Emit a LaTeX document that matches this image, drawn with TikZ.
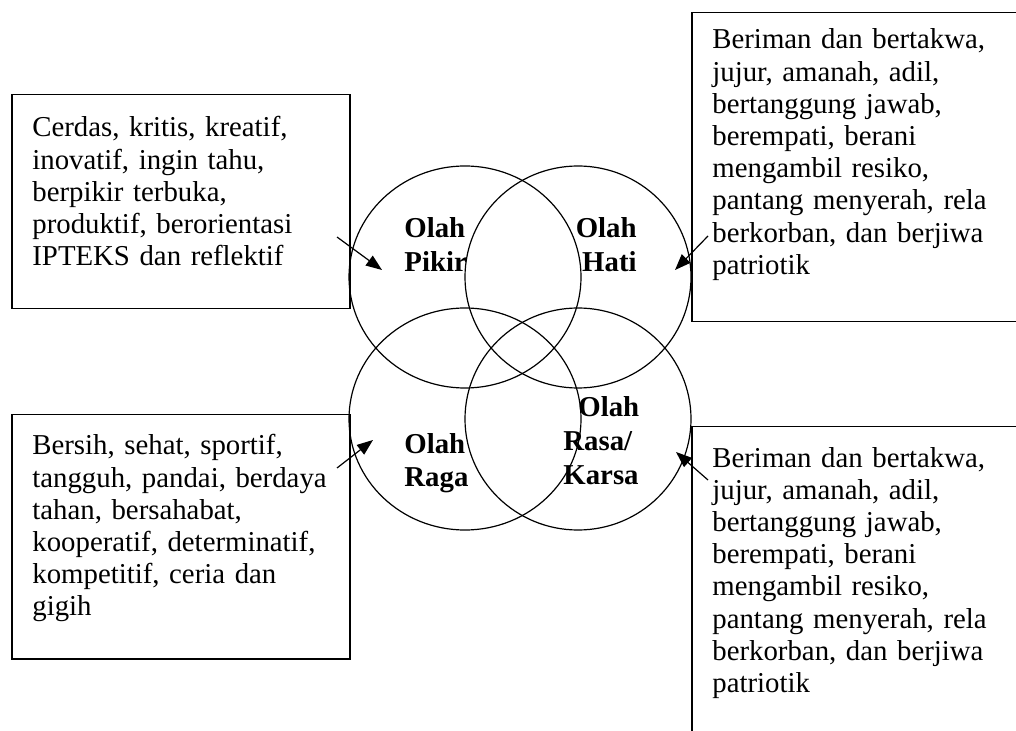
\documentclass[tikz,border=0pt]{standalone}
\usepackage{fontspec}
\setmainfont{Liberation Serif}
\usetikzlibrary{arrows.meta}

\tikzset{
  kotak/.style={draw, line width=0.75pt, inner sep=0pt, anchor=north west},
  isi/.style={inner sep=0pt, text width=160pt, align=left, anchor=base west,
    font=\fontsize{14.4}{16.1}\selectfont},
  judul/.style={inner sep=0pt, text width=45pt,
    font=\fontsize{14.4}{16.9}\selectfont\bfseries},
  panah/.style={-{Triangle[length=8pt,width=6pt]}, line width=0.6pt},
  lingkar/.style={line width=0.6pt}
}

\begin{document}
\begin{tikzpicture}[x=0.5pt,y=-0.5pt]
\useasboundingbox (0,0) rectangle (1016,731);
\clip (0,0) rectangle (1016,731);
% kotak keterangan
\node[kotak, minimum width=169pt, minimum height=107pt] (kpikir) at (11,94) {};
\node[kotak, minimum width=180pt, minimum height=154.5pt] (khati) at (691,12) {};
\node[kotak, minimum width=169pt, minimum height=122pt] (kraga) at (11,414) {};
\node[kotak, minimum width=180pt, minimum height=167pt] (krasa) at (691,426) {};
\node[isi] (tpikir) at ([shift={(21,43)}]kpikir.north west)
  {Cerdas, kritis, kreatif,\\ inovatif, ingin tahu,\\ berpikir terbuka,\\
   produktif, berorientasi\\ IPTEKS dan reflektif};
\node[isi] (thati) at ([shift={(21,37)}]khati.north west)
  {Beriman dan bertakwa,\\ jujur, amanah, adil,\\ bertanggung jawab,\\
   berempati, berani\\ mengambil resiko,\\ pantang menyerah, rela\\
   berkorban, dan berjiwa\\ patriotik};
\node[isi] (traga) at ([shift={(21,41)}]kraga.north west)
  {Bersih, sehat, sportif,\\ tangguh, pandai, berdaya\\ tahan, bersahabat,\\
   kooperatif, determinatif,\\ kompetitif, ceria dan\\ gigih};
\node[isi] (trasa) at ([shift={(21,41)}]krasa.north west)
  {Beriman dan bertakwa,\\ jujur, amanah, adil,\\ bertanggung jawab,\\
   berempati, berani\\ mengambil resiko,\\ pantang menyerah, rela\\
   berkorban, dan berjiwa\\ patriotik};
% empat lingkaran
\draw[lingkar] (465,277) ellipse [x radius=58pt, y radius=55.5pt];
\draw[lingkar] (578,277) ellipse [x radius=56.5pt, y radius=55.5pt];
\draw[lingkar] (465,419) ellipse [x radius=58pt, y radius=55.5pt];
\draw[lingkar] (578,419) ellipse [x radius=56.5pt, y radius=55.5pt];
\node[judul, align=left, anchor=base west] (lpikir) at (404,238) {Olah\\Pikir};
\node[judul, align=right, anchor=base east] (lhati) at (637,238) {Olah\\Hati};
\node[judul, align=left, anchor=base west] (lraga) at (404,453) {Olah\\Raga};
\node[judul, align=left, anchor=base west] (lrasa) at (563,417)
  {\hspace*{7.5pt}Olah\\Rasa/\\Karsa};
% panah
\coordinate (apikir) at (337,237);
\coordinate (bpikir) at (382,270);
\coordinate (ahati) at (708,236);
\coordinate (bhati) at (675,270);
\coordinate (araga) at (337,468);
\coordinate (braga) at (373,440);
\coordinate (arasa) at (708,480);
\coordinate (brasa) at (676,452);
\draw[panah] (apikir) -- (bpikir);
\draw[panah] (ahati) -- (bhati);
\draw[panah] (araga) -- (braga);
\draw[panah] (arasa) -- (brasa);
\end{tikzpicture}
\end{document}
